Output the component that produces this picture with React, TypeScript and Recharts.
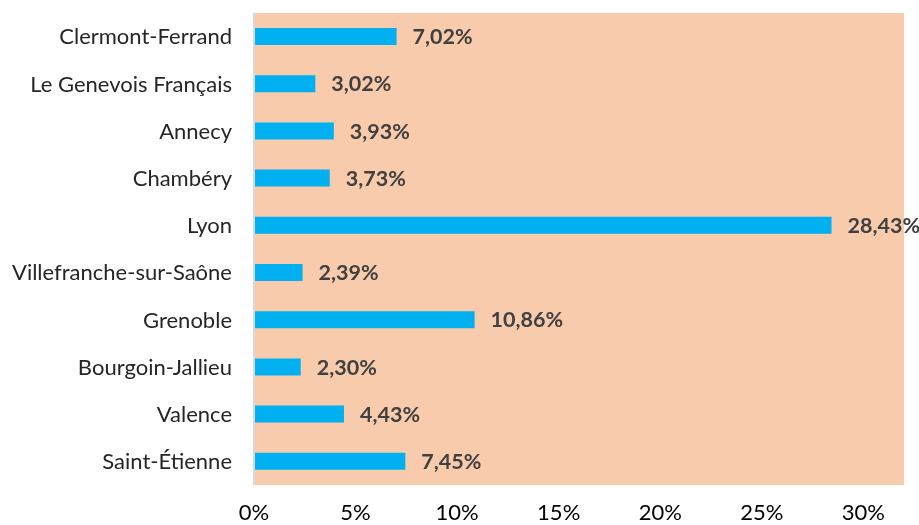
import React from 'react'
import { BarChart, Bar, XAxis, YAxis, CartesianGrid, LabelList } from 'recharts'

const cities = [
  'Clermont-Ferrand',
  'Le Genevois Français',
  'Annecy',
  'Chambéry',
  'Lyon',
  'Villefranche-sur-Saône',
  'Grenoble',
  'Bourgoin-Jallieu',
  'Valence',
  'Saint-Étienne',
]

const shares = [7.02, 3.02, 3.93, 3.73, 28.43, 2.39, 10.86, 2.3, 4.43, 7.45]

const xTicks = [0, 5, 10, 15, 20, 25, 30]

const data = cities.map((name, i) => ({ name, value: shares[i] }))

const fmtPct = (v: number) => v.toFixed(2).replace('.', ',') + '%'

const App: React.FC = () => {
  return (
    <div style={{ position: 'fixed', left: 0, top: 0, fontFamily: 'Lato, sans-serif' }}>
      <BarChart
        width={919}
        height={525}
        data={data}
        layout="vertical"
        margin={{ top: 13, right: 15, bottom: 0, left: 0 }}
        barSize={17}
      >
        <CartesianGrid horizontal={false} vertical={false} fill="#F8CBAD" />
        <XAxis
          type="number"
          domain={[0, 32]}
          ticks={xTicks}
          tickFormatter={(v: number) => `${v}%`}
          axisLine={false}
          tickLine={false}
          tickSize={0}
          tickMargin={19}
          height={40}
          interval={0}
          tick={{ fill: '#000', fontSize: 22 }}
        />
        <YAxis
          type="category"
          dataKey="name"
          width={254}
          axisLine={{ stroke: '#D9D9D9', strokeWidth: 2 }}
          tickLine={false}
          tickSize={0}
          tickMargin={22}
          interval={0}
          tick={{ fill: '#262626', fontSize: 22 }}
        />
        <Bar dataKey="value" fill="#00B0F0" isAnimationActive={false}>
          <LabelList
            dataKey="value"
            position="right"
            offset={16}
            formatter={(v: number) => fmtPct(v)}
            style={{ fill: '#404040', fontSize: 21.5, fontWeight: 700 }}
          />
        </Bar>
      </BarChart>
    </div>
  )
}

export default App
